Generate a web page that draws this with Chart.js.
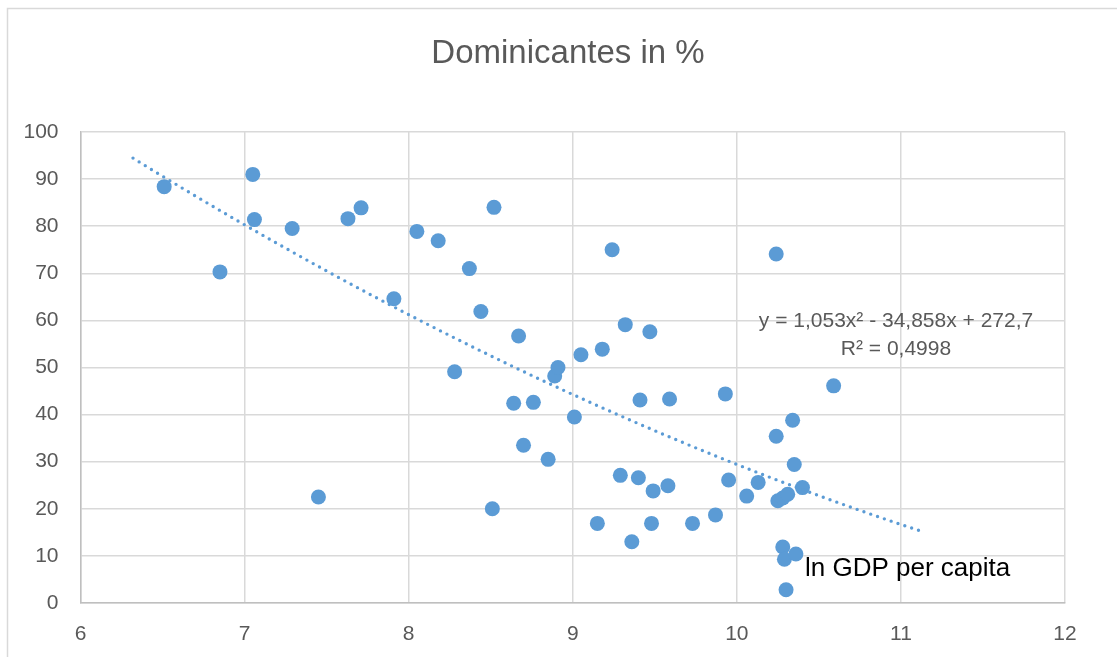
<!DOCTYPE html>
<html>
<head>
<meta charset="utf-8">
<style>
  html, body { margin: 0; padding: 0; background: #ffffff; }
  #wrap { width: 1117px; height: 657px; position: relative; }
</style>
<script src="https://cdn.jsdelivr.net/npm/chart.js@4/dist/chart.umd.min.js"></script>
</head>
<body>
<div id="wrap"><canvas id="c" width="1117" height="657"></canvas></div>
<script>
// ---- data ----
const chartTitle = "Dominicantes in %";
const xAxisLabel = "ln GDP per capita";
const lnGdp = [6.51, 6.85, 7.05, 7.06, 7.29, 7.45, 7.63, 7.71, 7.91, 8.05,
  8.18, 8.28, 8.37, 8.44, 8.51, 8.52, 8.64, 8.67, 8.70, 8.76,
  8.85, 8.89, 8.91, 9.01, 9.05, 9.15, 9.18, 9.24, 9.29, 9.32,
  9.36, 9.40, 9.41, 9.47, 9.48, 9.49, 9.58, 9.59, 9.73, 9.87,
  9.93, 9.95, 10.06, 10.13, 10.24, 10.24, 10.25, 10.28, 10.31, 10.28,
  10.29, 10.36, 10.30, 10.34, 10.35, 10.40, 10.59];
const dominicantes = [88.4, 70.3, 91.0, 81.4, 79.5, 22.5, 81.6, 83.9, 64.6, 78.9,
  76.9, 49.1, 71.0, 61.9, 20.0, 84.0, 42.4, 56.7, 33.5, 42.6,
  30.5, 48.2, 50.0, 39.5, 52.7, 16.9, 53.9, 75.0, 27.1, 59.1,
  13.0, 26.6, 43.1, 57.6, 16.9, 23.8, 24.9, 43.3, 16.9, 18.7,
  44.4, 26.1, 22.7, 25.6, 35.4, 74.1, 21.7, 22.3, 23.1, 11.9,
  9.3, 10.4, 2.8, 38.8, 29.4, 24.5, 46.1];
// polynomial trendline (order 2) as printed in the chart: c0 + c1*x + c2*x^2
const trendCoefficients = [272.7, -34.858, 1.053];
const trendRange = [6.32, 11.13];
const trendEquation = "y = 1,053x\u00B2 - 34,858x + 272,7";
const trendR2 = "R\u00B2 = 0,4998";
const xTicks = [6, 7, 8, 9, 10, 11, 12];
const yTicks = [0, 10, 20, 30, 40, 50, 60, 70, 80, 90, 100];

// ---- build datasets ----
const points = lnGdp.map((x, i) => ({ x: x, y: dominicantes[i] }));
const trendPoints = [];
for (let x = trendRange[0]; x <= trendRange[1] + 1e-9; x += 0.02) {
  trendPoints.push({ x: x, y: trendCoefficients[0] + trendCoefficients[1] * x + trendCoefficients[2] * x * x });
}

const BLUE = '#5b9bd5';
const FONT = '"Liberation Sans", Arial, sans-serif';

const decorPlugin = {
  id: 'decor',
  beforeDraw(chart) {
    const ctx = chart.ctx;
    ctx.save();
    ctx.fillStyle = '#ffffff';
    ctx.fillRect(0, 0, chart.width, chart.height);
    ctx.strokeStyle = '#d9d9d9';
    ctx.lineWidth = 1.5;
    ctx.strokeRect(7.5, 8.5, 3000, 3000);
    ctx.restore();
  },
  afterDraw(chart) {
    const ctx = chart.ctx;
    ctx.save();
    ctx.textBaseline = 'middle';
    ctx.fillStyle = '#595959';
    ctx.textAlign = 'center';
    ctx.font = '33px ' + FONT;
    ctx.fillText(chartTitle, 568, 54);
    ctx.font = '21px ' + FONT;
    ctx.fillText(trendEquation, 896, 321);
    ctx.fillText(trendR2, 896, 349);
    ctx.fillStyle = '#000000';
    ctx.textAlign = 'left';
    ctx.font = '26px ' + FONT;
    ctx.fillText(xAxisLabel, 805, 569);
    ctx.restore();
  }
};

new Chart(document.getElementById('c'), {
  type: 'scatter',
  data: {
    datasets: [
      {
        label: 'Dominicantes',
        data: points,
        backgroundColor: BLUE,
        borderColor: BLUE,
        borderWidth: 0,
        pointRadius: 7.5,
        pointHoverRadius: 7.5,
        order: 2
      },
      {
        type: 'line',
        label: 'Trend',
        data: trendPoints,
        showLine: true,
        borderColor: BLUE,
        borderWidth: 3.4,
        borderDash: [0, 7.2],
        borderCapStyle: 'round',
        pointRadius: 0,
        fill: false,
        tension: 0,
        order: 1
      }
    ]
  },
  options: {
    responsive: false,
    animation: false,
    devicePixelRatio: 1,
    layout: { padding: { top: 132, right: 52, bottom: 0, left: 0 } },
    plugins: {
      legend: { display: false },
      tooltip: { enabled: false },
      title: { display: false }
    },
    scales: {
      x: {
        type: 'linear',
        min: xTicks[0],
        max: xTicks[xTicks.length - 1],
        afterBuildTicks(scale) { scale.ticks = xTicks.map(v => ({ value: v })); },
        afterFit(scale) { scale.height = 54; },
        grid: { color: '#d9d9d9', lineWidth: 1.5, drawTicks: false },
        border: { color: '#bfbfbf', width: 1.5 },
        ticks: { color: '#595959', font: { family: FONT, size: 21 }, padding: 19, maxRotation: 0 }
      },
      y: {
        type: 'linear',
        min: yTicks[0],
        max: yTicks[yTicks.length - 1],
        afterBuildTicks(scale) { scale.ticks = yTicks.map(v => ({ value: v })); },
        afterFit(scale) { scale.width = 80.5; },
        grid: { color: '#d9d9d9', lineWidth: 1.5, drawTicks: false },
        border: { color: '#bfbfbf', width: 1.5 },
        ticks: { color: '#595959', font: { family: FONT, size: 21 }, padding: 22 }
      }
    }
  },
  plugins: [decorPlugin]
});
</script>
</body>
</html>
